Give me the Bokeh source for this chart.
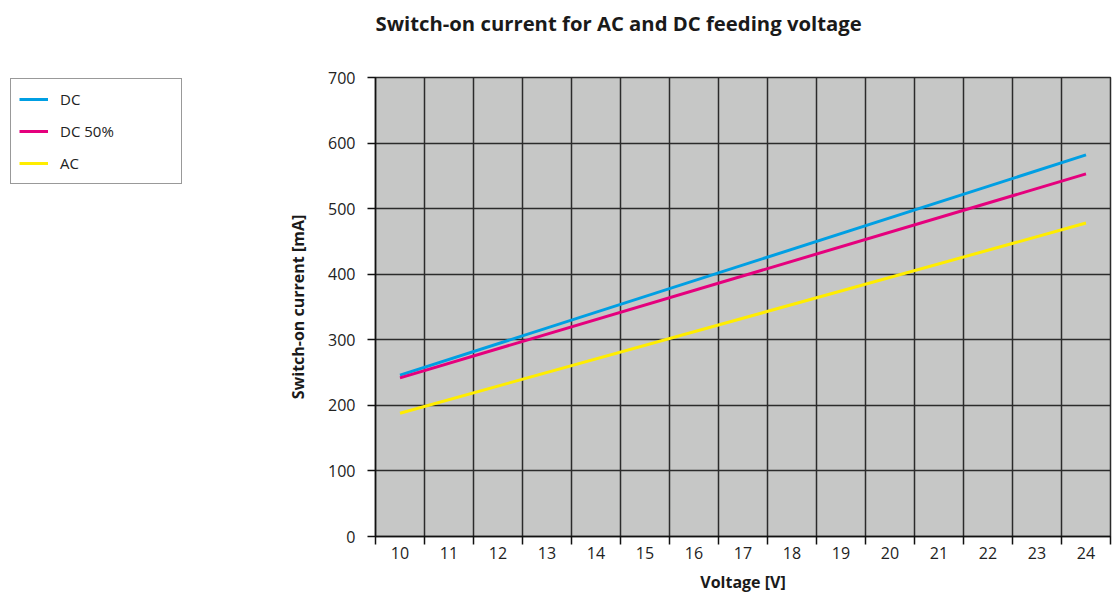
from bokeh.plotting import figure
from bokeh.models import FixedTicker, Range1d, Legend, LegendItem, Title
from bokeh.layouts import row
from bokeh.embed import file_html
from bokeh.resources import INLINE

# ---- data ----
voltage = [10, 24]
dc = [246, 582]
dc_50 = [242, 553]
ac = [188, 478]
series_names = ["DC", "DC 50%", "AC"]
series_colors = ["#009fe3", "#e5007d", "#ffed00"]
x_ticks = list(range(10, 25))
y_ticks = list(range(0, 701, 100))
x_bounds = [v - 0.5 for v in range(10, 26)]

FONT = "Open Sans"
GRID = "#2b2b2b"
LEG_W = 200

# ---- main chart ----
p = figure(frame_width=735, frame_height=459, output_backend="svg", toolbar_location=None,
           x_range=Range1d(9.5, 24.5), y_range=Range1d(0, 700),
           min_border_left=375 - LEG_W, min_border_right=6, min_border_top=77,
           min_border_bottom=57)

p.title.text = "Switch-on current for AC and DC feeding voltage"
p.title.text_font = FONT
p.title.text_font_size = "20.3px"
p.title.text_font_style = "bold"
p.title.text_color = "#1a1a1a"
p.title.align = "left"
p.title.standoff = 6

spacer = Title(text=" ", text_font_size="20px", standoff=14)
p.add_layout(spacer, "above")

p.background_fill_color = "#c6c7c6"
p.border_fill_color = "white"
p.outline_line_color = GRID
p.outline_line_width = 1.5

p.xgrid.ticker = FixedTicker(ticks=x_bounds)
p.ygrid.ticker = FixedTicker(ticks=y_ticks)
for g in (p.xgrid, p.ygrid):
    g.grid_line_color = GRID
    g.grid_line_width = 1.5
    g.grid_line_alpha = 1.0

xa = p.xaxis[0]
xa.ticker = FixedTicker(ticks=x_ticks, minor_ticks=x_bounds)
xa.major_tick_line_color = None
xa.major_tick_out = 0
xa.major_tick_in = 0
xa.minor_tick_out = 8
xa.minor_tick_in = 0
xa.minor_tick_line_color = "#111111"
xa.minor_tick_line_width = 1.5
xa.major_label_standoff = 2
xa.axis_label = "Voltage [V]"
xa.axis_label_standoff = 9

ya = p.yaxis[0]
ya.ticker = FixedTicker(ticks=y_ticks)
ya.major_tick_out = 8
ya.major_tick_in = 0
ya.minor_tick_line_color = None
ya.major_tick_line_color = "#111111"
ya.major_tick_line_width = 1.5
ya.major_label_standoff = 12
ya.axis_label = "Switch-on current [mA]"
ya.axis_label_standoff = 16

for ax in (xa, ya):
    ax.axis_line_color = "#111111"
    ax.axis_line_width = 1.5
    ax.major_label_text_font = FONT
    ax.major_label_text_font_size = "16px"
    ax.major_label_text_color = "#222222"
    ax.axis_label_text_font = FONT
    ax.axis_label_text_font_size = "16px"
    ax.axis_label_text_font_style = "bold"
    ax.axis_label_text_color = "#1a1a1a"

for ys, c in zip([dc, dc_50, ac], series_colors):
    p.line(voltage, ys, line_color=c, line_width=3)

# ---- legend panel (separate figure on the left, frame aligned with the chart's) ----
lf = figure(width=LEG_W, height=593, output_backend="svg", toolbar_location=None,
            x_range=Range1d(0, 1), y_range=Range1d(0, 1), min_border=0,
            x_axis_location=None, y_axis_location=None)
lf.grid.visible = False
lf.outline_line_color = None
lf.background_fill_color = "white"
lf.border_fill_color = "white"

leg_renderers = []
for ys, c in zip([dc, dc_50, ac], series_colors):
    leg_renderers.append(lf.line(voltage, ys, line_color=c, line_width=3))

legend = Legend(items=[LegendItem(label=n, renderers=[r]) for n, r in zip(series_names, leg_renderers)],
                location=(10, 350))
legend.border_line_color = "#333333"
legend.border_line_width = 1.3
legend.background_fill_color = "white"
legend.background_fill_alpha = 1.0
legend.glyph_width = 29
legend.glyph_height = 24
legend.label_height = 24
legend.label_width = 113
legend.label_standoff = 12
legend.padding = 8
legend.spacing = 8
legend.margin = 0
legend.label_text_font = FONT
legend.label_text_font_size = "15px"
legend.label_text_color = "#222222"
lf.add_layout(legend)

layout = row(lf, p)
open("out.html", "w").write(file_html(layout, INLINE))
